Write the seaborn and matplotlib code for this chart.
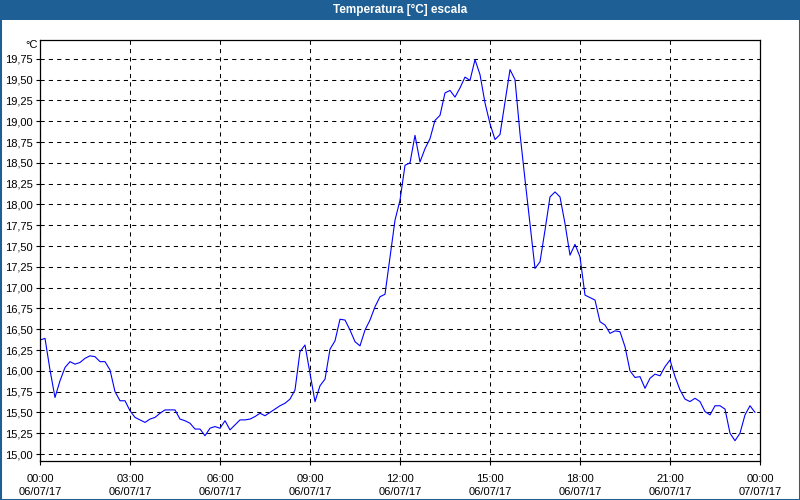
import matplotlib
matplotlib.use("Agg")
import matplotlib.pyplot as plt
import matplotlib.dates as mdates
from matplotlib.patches import Rectangle
import seaborn as sns
import pandas as pd

# ---- data (10-minute readings, 06/07/17 00:00 .. 23:50) ----
start_time = "2017-07-06 00:00"
end_time = "2017-07-07 00:00"
temperature = [
    16.37, 16.39, 16.01, 15.68, 15.88, 16.04, 16.11, 16.08, 16.10, 16.15, 16.18, 16.17,
    16.11, 16.11, 16.01, 15.75, 15.64, 15.64, 15.52, 15.44, 15.41, 15.38, 15.42, 15.44,
    15.49, 15.53, 15.53, 15.53, 15.42, 15.40, 15.37, 15.30, 15.30, 15.22, 15.31, 15.33,
    15.31, 15.40, 15.29, 15.35, 15.41, 15.41, 15.42, 15.45, 15.49, 15.46, 15.50, 15.54,
    15.58, 15.61, 15.66, 15.77, 16.23, 16.31, 15.97, 15.63, 15.82, 15.90, 16.26, 16.36,
    16.62, 16.61, 16.49, 16.35, 16.30, 16.49, 16.61, 16.77, 16.89, 16.92, 17.37, 17.81,
    18.05, 18.47, 18.50, 18.83, 18.51, 18.67, 18.79, 19.01, 19.07, 19.34, 19.37, 19.29,
    19.40, 19.53, 19.49, 19.74, 19.56, 19.22, 18.97, 18.78, 18.84, 19.23, 19.62, 19.50,
    18.85, 18.30, 17.77, 17.23, 17.31, 17.69, 18.09, 18.15, 18.09, 17.77, 17.39, 17.52,
    17.37, 16.91, 16.88, 16.85, 16.59, 16.55, 16.45, 16.48, 16.47, 16.29, 16.00, 15.92,
    15.93, 15.79, 15.91, 15.96, 15.94, 16.05, 16.13, 15.93, 15.77, 15.66, 15.63, 15.67,
    15.63, 15.51, 15.47, 15.58, 15.58, 15.54, 15.25, 15.16, 15.25, 15.47, 15.58, 15.50,
]
y_ticks = [15.00, 15.25, 15.50, 15.75, 16.00, 16.25, 16.50, 16.75, 17.00, 17.25, 17.50,
           17.75, 18.00, 18.25, 18.50, 18.75, 19.00, 19.25, 19.50, 19.75]
title = "Temperatura [°C] escala"
unit = "°C"

times = pd.date_range(start_time, periods=len(temperature), freq="10min")
df = pd.DataFrame({"time": times, "temp": temperature})

sns.set_theme(style="white")
plt.rcParams["font.family"] = ["Liberation Sans", "DejaVu Sans"]

BLUE_BAR = "#1e6096"

fig = plt.figure(figsize=(8, 5), dpi=100, facecolor="white")
ax = fig.add_axes([40 / 800, 1 - 461 / 500, 720 / 800, 421 / 500])

sns.lineplot(data=df, x="time", y="temp", ax=ax, color="#0000ff", linewidth=0.8)

ax.set_xlim(pd.Timestamp(start_time), pd.Timestamp(end_time))
ax.set_ylim(14.916, 19.976)

# y axis
ax.set_yticks(y_ticks)
ax.set_yticklabels([f"{v:.2f}".replace(".", ",") for v in y_ticks])

# x axis
ax.xaxis.set_major_locator(mdates.HourLocator(byhour=range(0, 24, 3)))
ax.xaxis.set_minor_locator(mdates.HourLocator())
ax.xaxis.set_major_formatter(mdates.DateFormatter("%H:%M\n%d/%m/%y"))

ax.tick_params(axis="both", which="major", labelsize=8, colors="black",
               length=3, width=0.8, direction="out")
ax.tick_params(axis="x", which="major", pad=6)
ax.tick_params(axis="y", which="major", pad=2)
ax.tick_params(axis="x", which="minor", length=3, width=0.8, direction="out", color="black")
ax.tick_params(left=True, bottom=True)
for lbl in ax.get_xticklabels():
    lbl.set_linespacing(1.45)

ax.set_xlabel("")
ax.set_ylabel("")

ax.grid(True, which="major", axis="both", color="black", linestyle=(0, (4, 4)),
        linewidth=0.75)

for s in ax.spines.values():
    s.set_visible(True)
    s.set_color("black")
    s.set_linewidth(0.9)

# unit label above the y axis
fig.text(38 / 800, 1 - 45 / 500, unit, ha="right", va="center", fontsize=8, color="black")

# title bar
fig.patches.append(Rectangle((0, 1 - 20 / 500), 1, 20 / 500, transform=fig.transFigure,
                             facecolor=BLUE_BAR, edgecolor="none", zorder=0))
fig.text(0.5, 1 - 10 / 500, title, ha="center", va="center", color="white",
         fontsize=8.5, fontweight="bold")
# window frame
fig.patches.append(Rectangle((0, 0), 1, 1, transform=fig.transFigure,
                             facecolor="none", edgecolor=BLUE_BAR, linewidth=2.2, zorder=0))

fig.savefig("out.png", dpi=100, facecolor="white")
